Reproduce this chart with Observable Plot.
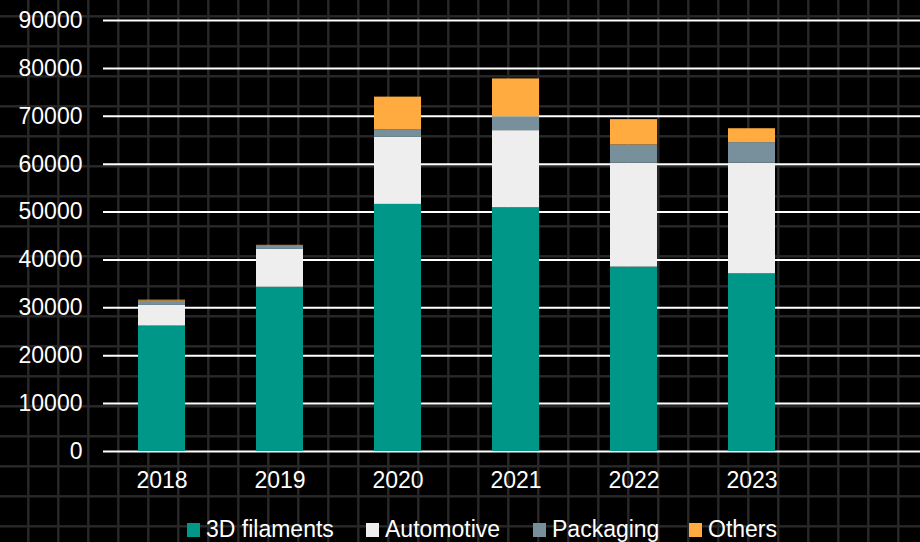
<!DOCTYPE html>
<html>
<head>
<meta charset="utf-8">
<script src="https://cdn.jsdelivr.net/npm/d3@7"></script>
<script src="https://cdn.jsdelivr.net/npm/@observablehq/plot@0.6"></script>
<style>
  html, body { margin: 0; padding: 0; }
  body {
    width: 920px; height: 542px; overflow: hidden; position: relative;
    background-color: #000;
    background-image:
      repeating-linear-gradient(to right, transparent 0px, transparent 27px, #222 27px, #2a2a2a 29px, transparent 30px),
      repeating-linear-gradient(to bottom, transparent 0px, transparent 15px, #222 15px, #2a2a2a 17px, transparent 18px, transparent 30px);
    font-family: "Liberation Sans", Arial, sans-serif;
  }
  #chart { position: absolute; left: 0; top: 0; }
  #legend { position: absolute; left: 0; top: 0; }
</style>
</head>
<body>
<div id="chart"></div>
<svg id="legend" width="920" height="542"></svg>
<script>
const years = ["2018", "2019", "2020", "2021", "2022", "2023"];
const seriesNames = ["3D filaments", "Automotive", "Packaging", "Others"];
const seriesColors = ["#009688", "#eeeeee", "#78909c", "#ffab40"];
const filaments = [26200, 34300, 51600, 50900, 38500, 37100];
const automotive = [4300, 7900, 14000, 16100, 21700, 23100];
const packaging = [900, 700, 1600, 2900, 3800, 4300];
const others = [200, 150, 6800, 7900, 5300, 2900];
const yTicks = [0, 10000, 20000, 30000, 40000, 50000, 60000, 70000, 80000, 90000];
const legendX = [187, 366, 533, 689];

const seriesValues = [filaments, automotive, packaging, others];
const data = [];
seriesNames.forEach((s, i) => {
  years.forEach((y, j) => data.push({year: y, series: s, value: seriesValues[i][j]}));
});

const chart = Plot.plot({
  width: 920,
  height: 505,
  marginTop: 20,
  marginBottom: 54,
  marginLeft: 103,
  marginRight: 0,
  style: {background: "transparent", color: "#fff", fontFamily: "'Liberation Sans', Arial, sans-serif", fontSize: "23px"},
  x: {domain: years, range: [103, 811], paddingInner: 0.6, paddingOuter: 0.3, label: null},
  y: {domain: [0, 90000], label: null},
  color: {domain: seriesNames, range: seriesColors},
  marks: [
    Plot.ruleY(yTicks, {stroke: "#ffffff", strokeWidth: 2}),
    Plot.barY(data, {x: "year", y: "value", fill: "series"}),
    Plot.axisX({tickSize: 0, tickPadding: 20, fontSize: 23, label: null}),
    Plot.axisY({ticks: yTicks, tickFormat: d => String(d), tickSize: 0, tickPadding: 21, fontSize: 23, label: null})
  ]
});
document.getElementById("chart").appendChild(chart);

const legend = d3.select("#legend");
seriesNames.forEach((s, i) => {
  legend.append("rect")
    .attr("x", legendX[i]).attr("y", 523).attr("width", 13).attr("height", 14)
    .attr("fill", seriesColors[i]);
  legend.append("text")
    .attr("x", legendX[i] + 19).attr("y", 537)
    .attr("fill", "#fff")
    .attr("font-family", "'Liberation Sans', Arial, sans-serif")
    .attr("font-size", 23)
    .text(s);
});
</script>
</body>
</html>
